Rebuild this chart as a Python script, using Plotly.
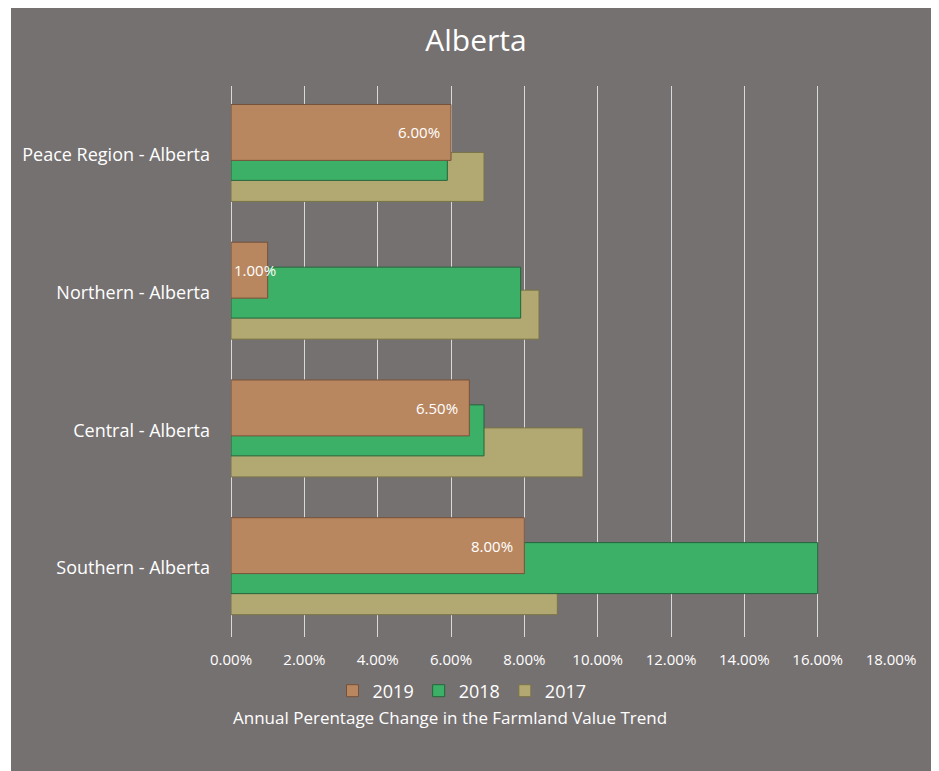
import plotly.graph_objects as go

categories = ["Southern - Alberta", "Central - Alberta", "Northern - Alberta", "Peace Region - Alberta"]
v2019 = [0.080, 0.065, 0.010, 0.060]
v2018 = [0.160, 0.069, 0.079, 0.059]
v2017 = [0.089, 0.096, 0.084, 0.069]
series_names = ["2017", "2018", "2019"]
x_ticks = [0.00, 0.02, 0.04, 0.06, 0.08, 0.10, 0.12, 0.14, 0.16, 0.18]

FONT = "Open Sans"
BG = "#767171"
W, H = 939, 771
OFF = 8  # page body margin
# reference pixel geometry of the plot area
P_LEFT, P_RIGHT, P_TOP, P_BOTTOM = 231 - OFF, 891 - OFF, 86 - OFF, 637 - OFF
ML, MR, MT, MB = P_LEFT, W - P_RIGHT, P_TOP, H - P_BOTTOM
plot_w = P_RIGHT - P_LEFT
plot_h = P_BOTTOM - P_TOP
cat_px = plot_h / len(categories)


def py(ref_y):
    """reference page y -> paper y"""
    return (P_BOTTOM - (ref_y - OFF)) / plot_h


def px(ref_x):
    return ((ref_x - OFF) - P_LEFT) / plot_w


styles = {
    "2017": dict(color="#B1A971", line="#7A7348", width=0.356, offset=-0.338),
    "2018": dict(color="#3DB068", line="#23653B", width=0.370, offset=-0.185),
    "2019": dict(color="#B9875F", line="#75513A", width=0.406, offset=-0.040),
}
values = {"2017": v2017, "2018": v2018, "2019": v2019}

fig = go.Figure()
for name in series_names:
    s = styles[name]
    fig.add_trace(go.Bar(
        y=categories, x=values[name], name=name, orientation="h",
        width=s["width"], offset=s["offset"],
        marker=dict(color=s["color"], line=dict(color=s["line"], width=1)),
        hoverinfo="x+name",
    ))

# data labels for 2019
s19 = styles["2019"]
yshift19 = (s19["offset"] + s19["width"] / 2) * cat_px
for cat, v in zip(categories, v2019):
    fits = v * plot_w / 0.18 > 55
    fig.add_annotation(
        x=v if fits else 0, y=cat, xref="x", yref="y",
        text=f"{v*100:.2f}%", showarrow=False,
        xanchor="right" if fits else "left", xshift=-9 if fits else 1,
        yshift=yshift19,
        font=dict(family=FONT, size=15, color="white"),
    )

# x-axis caption
fig.add_annotation(
    x=px(231), xref="paper", xanchor="left", y=py(717), yref="paper", yanchor="middle",
    text="Annual Perentage Change in the Farmland Value Trend", showarrow=False,
    font=dict(family=FONT, size=17, color="white"),
)

# grey chart area
fig.add_shape(type="rect", xref="paper", yref="paper",
              x0=px(11), x1=px(W + 40), y0=py(H + 40), y1=py(0),
              fillcolor=BG, line=dict(width=0), layer="below")

fig.update_layout(
    width=W, height=H,
    margin=dict(l=ML, r=MR, t=MT, b=MB, autoexpand=False),
    paper_bgcolor="white", plot_bgcolor="rgba(0,0,0,0)",
    barmode="overlay",
    title=dict(text="Alberta", x=(476 - OFF) / W, xanchor="center", y=1 - (40 - OFF) / H, yanchor="middle",
               font=dict(family=FONT, size=30, color="white")),
    legend=dict(orientation="h", traceorder="reversed", x=px(462), xanchor="center",
                y=py(691), yanchor="middle",
                font=dict(family=FONT, size=18, color="white"), bgcolor="rgba(0,0,0,0)",
                itemwidth=30, tracegroupgap=0),
    xaxis=dict(range=[0, 0.18], tickvals=x_ticks, tickformat=".2%",
               showgrid=True, gridcolor="#D9D9D9", gridwidth=1.3,
               zeroline=True, zerolinecolor="#D9D9D9", zerolinewidth=1.3,
               showline=False, ticks="outside", ticklen=9, tickcolor="rgba(0,0,0,0)",
               tickfont=dict(family=FONT, size=15, color="white"), fixedrange=True),
    yaxis=dict(type="category", categoryorder="array", categoryarray=categories,
               range=[-0.5, 3.5], showgrid=False, zeroline=False, showline=False,
               ticks="", ticklabelstandoff=20,
               tickfont=dict(family=FONT, size=18, color="white"), fixedrange=True),
    showlegend=True,
)

fig.write_html("out.html")
